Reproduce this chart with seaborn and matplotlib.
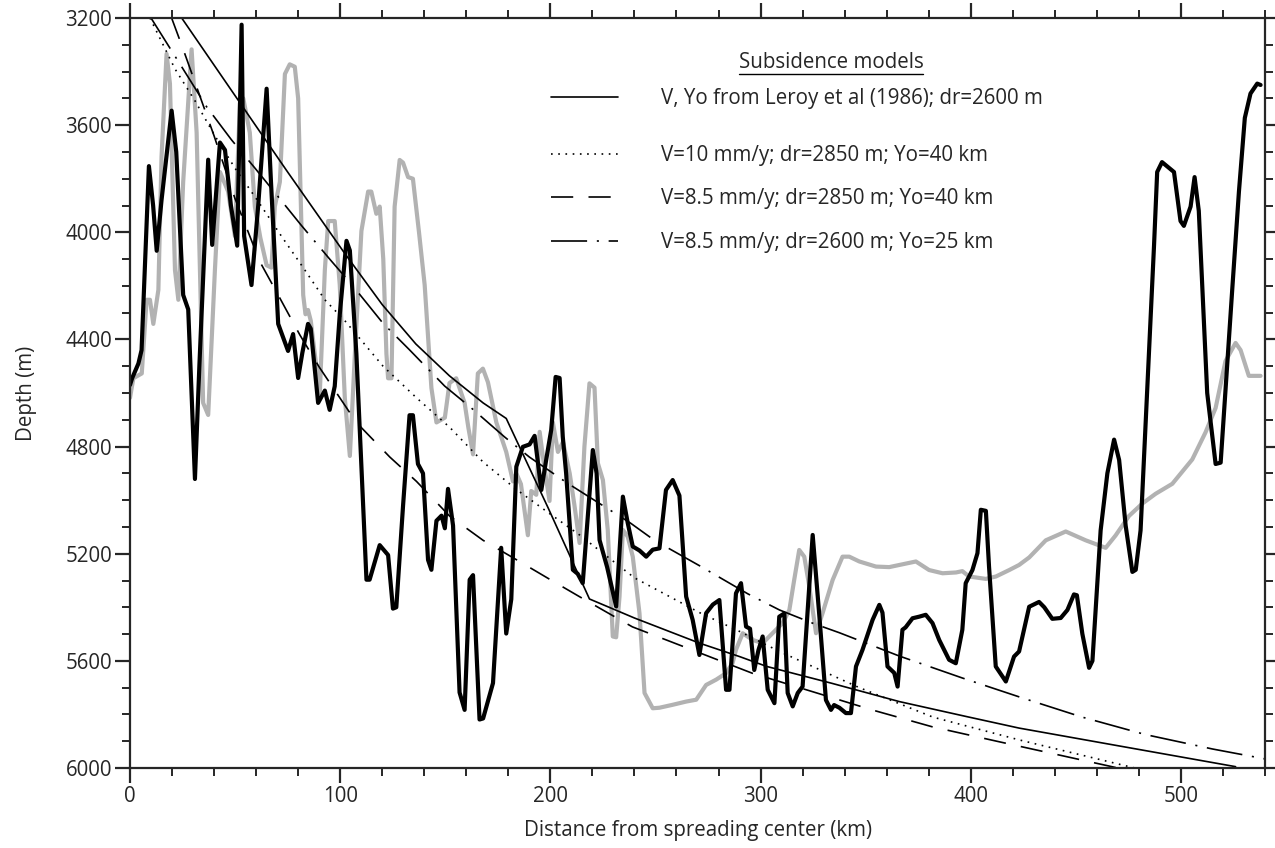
import matplotlib
matplotlib.use("Agg")
import matplotlib.pyplot as plt
import seaborn as sns
from matplotlib.ticker import MultipleLocator
from matplotlib.lines import Line2D

# ---------------- data ----------------
black_x = [0, 1, 4, 5.5, 9, 11, 12.7, 15, 19.8, 22, 25.3, 27.7, 30.9, 33, 37.2, 39.1, 42.8, 45.2,
           48, 51, 53.1, 54.3, 57.8, 61, 65, 67, 70.5, 75.2, 77.6, 80, 82, 84.7, 86, 89.5, 92.7,
           95, 97.4, 99.8, 103, 104.6, 107.7, 112.5, 114, 118.8, 122.8, 125.1, 126.7, 129.9, 133,
           134.6, 137, 139.4, 141.8, 143.4, 145.8, 148.2, 149.8, 151.3, 153.7, 156.8, 159.2, 161.6,
           163.2, 166.3, 168, 172.7, 176.6, 179, 181.4, 183.8, 186.9, 190.1, 192.5, 195.7, 198,
           200.4, 202.5, 204.4, 205.9, 207.5, 210.7, 213, 215.4, 220.2, 222, 223.4, 227, 231.3,
           234.5, 236.8, 239.2, 242.4, 245.6, 248.7, 251.9, 255, 258.2, 261.4, 264.6, 267.7, 270.9,
           274.1, 277.3, 280.4, 283.6, 285.2, 288.3, 290.7, 293.1, 295, 297, 299, 301, 303.4, 306.6,
           308.9, 311.3, 312.9, 315.3, 317.7, 320, 324.8, 328, 331.1, 333.5, 335, 337.5, 340.6, 343,
           345.4, 348.5, 353.3, 356.5, 358, 360.4, 363.6, 365.2, 367.5, 369, 372.3, 375.5, 378.6,
           381.8, 385, 389.7, 392.9, 396, 397.6, 400.8, 403.2, 404.8, 407.2, 408.7, 411.9, 416.7,
           420.6, 423, 427.8, 432.5, 435, 438.8, 442.8, 446, 449.1, 450.5, 453.1, 456.3, 457.9,
           461.8, 465, 468.2, 470.6, 473.7, 476.9, 478.5, 480.8, 484, 487.2, 488.7, 491, 496.7,
           499.8, 501.4, 504.6, 506.5, 508.5, 512.5, 516.5, 518.9, 524.4, 527.6, 530.4, 533.1,
           536.3, 537.9]
black_y = [4570, 4545, 4490, 4440, 3753, 3900, 4069, 3880, 3546, 3700, 4234, 4288, 4921, 4500, 3729,
           4047, 3665, 3693, 3900, 4050, 3225, 4014, 4197, 3900, 3464, 3800, 4342, 4443, 4380,
           4544, 4450, 4342, 4360, 4637, 4591, 4663, 4575, 4307, 4032, 4068, 4453, 5297, 5297,
           5168, 5205, 5405, 5400, 5022, 4683, 4683, 4865, 4900, 5223, 5260, 5077, 5058, 5105,
           4958, 5095, 5718, 5783, 5297, 5280, 5819, 5815, 5683, 5178, 5498, 5370, 4875, 4801,
           4792, 4760, 4962, 4850, 4738, 4540, 4544, 4763, 4900, 5260, 5275, 5310, 4813, 4900,
           5149, 5250, 5397, 4987, 5085, 5173, 5188, 5211, 5185, 5180, 4962, 4925, 4983, 5360,
           5447, 5578, 5422, 5390, 5373, 5708, 5708, 5348, 5310, 5472, 5480, 5634, 5560, 5509,
           5708, 5758, 5435, 5423, 5720, 5770, 5720, 5696, 5130, 5435, 5746, 5783, 5765, 5775,
           5795, 5795, 5621, 5559, 5447, 5391, 5420, 5621, 5645, 5696, 5484, 5475, 5441, 5435,
           5428, 5459, 5522, 5596, 5609, 5484, 5310, 5261, 5198, 5036, 5040, 5248, 5621, 5677,
           5584, 5565, 5398, 5380, 5400, 5443, 5440, 5410, 5352, 5355, 5499, 5626, 5600, 5113,
           4900, 4774, 4850, 5095, 5268, 5260, 5113, 4581, 4050, 3775, 3738, 3775, 3958, 3976,
           3904, 3794, 3920, 4600, 4865, 4860, 4215, 3848, 3573, 3482, 3445, 3450]

gray_x = [0, 1.6, 5.6, 7.9, 9.5, 11.1, 13.5, 15, 17.4, 19, 21.4, 23, 25.3, 29.3, 31.7, 34.8, 37.2,
          40.4, 42.8, 46.7, 49.9, 52.3, 53.9, 57, 59.4, 62, 65, 67.3, 68.9, 71.3, 73.7, 76, 78.4,
          80, 82.4, 83.5, 84.7, 86, 87.9, 90.3, 92.7, 94.3, 97.4, 99.8, 102.2, 104.6, 107, 110.1,
          113.3, 114.8, 117.2, 118.8, 120.5, 122, 122.8, 124.4, 125.9, 128.3, 129.9, 132.3, 134.6,
          137.5, 140.2, 143.4, 145.8, 149.8, 152, 155.2, 159.2, 161, 163.2, 165.5, 167.9, 170.3,
          174.3, 179, 182.2, 183.8, 186, 189.3, 190.9, 193.3, 194.9, 197, 199.6, 201.2, 203.6, 206,
          209.2, 211.5, 213.9, 216.2, 218.6, 221, 222.6, 225, 227.3, 229.7, 231.3, 232.9, 234.5,
          236.8, 239.2, 242.4, 244.8, 248.7, 251.9, 258.2, 264.6, 269.4, 274.1, 278.9, 283.6,
          286.7, 288.3, 291.5, 296.3, 301, 305.7, 310.5, 313.7, 316, 318.4, 320.8, 323.2, 326.4,
          329.5, 334.3, 339, 342.2, 347, 354.9, 361.2, 366, 373.9, 380.2, 386.6, 393, 396, 399.2,
          407.2, 412, 418.3, 423, 427.8, 435.7, 445.2, 454.7, 464.2, 468.9, 475.3, 481.6, 488,
          495.9, 505.4, 511.7, 516.5, 521.2, 526, 528.4, 532.3, 537.9]
gray_y = [4618, 4545, 4527, 4252, 4252, 4342, 4215, 3719, 3334, 3445, 4141, 4252, 3812, 3317, 3628,
          4637, 4682, 4141, 3775, 3848, 4014, 3518, 3500, 3628, 3904, 4020, 4123, 4132, 3904, 3812,
          3409, 3373, 3382, 3500, 4234, 4306, 4290, 4330, 4454, 4600, 4141, 3958, 3958, 4197, 4618,
          4835, 4454, 3995, 3848, 3848, 3931, 3904, 4100, 4454, 4545, 4545, 3904, 3730, 3740, 3794,
          3800, 4000, 4197, 4581, 4710, 4692, 4563, 4545, 4637, 4730, 4829, 4527, 4509, 4560, 4710,
          4820, 4930, 4900, 4940, 5131, 4966, 4980, 4745, 4870, 5003, 4710, 4820, 4783, 4900, 5022,
          5160, 4800, 4564, 4580, 4862, 4925, 5111, 5509, 5512, 5360, 5111, 5136, 5211, 5422, 5720,
          5777, 5775, 5764, 5752, 5745, 5690, 5670, 5646, 5608, 5559, 5497, 5522, 5534, 5497, 5459,
          5410, 5298, 5186, 5211, 5323, 5497, 5422, 5298, 5211, 5211, 5229, 5248, 5250, 5242, 5229,
          5261, 5273, 5270, 5265, 5285, 5294, 5285, 5261, 5242, 5214, 5150, 5117, 5150, 5178, 5132,
          5059, 5013, 4976, 4939, 4848, 4747, 4656, 4481, 4413, 4440, 4536, 4536]

# subsidence model curves
leroy_x = [24.6, 50, 75, 102, 120, 136, 152, 168, 179, 199, 218.6, 240, 271, 290, 303, 334, 366,
           398, 423, 468, 526]
leroy_y = [3200, 3490, 3775, 4077, 4270, 4417, 4536, 4637, 4695, 5030, 5369, 5440, 5534, 5584,
           5621, 5684, 5752, 5808, 5851, 5914, 5995]

v10_x = [9.5, 21.4, 30.9, 40.4, 49.9, 61, 72, 83.2, 92.7, 102.2, 120.4, 136.3, 152.1, 167.9,
         183.8, 199.6, 213.9, 240, 271, 290, 309, 347, 382, 423, 478]
v10_y = [3200, 3390, 3509, 3640, 3760, 3885, 4014, 4141, 4252, 4330, 4500, 4618, 4728, 4857,
         4960, 5050, 5130, 5290, 5420, 5490, 5565, 5700, 5810, 5895, 6000]

v85a_x = [19.8, 25, 30, 40, 49.9, 61.8, 70, 80.8, 90, 107.7, 123.6, 136.3, 152, 168, 184, 200,
          214, 239, 271, 296, 353, 381.6, 413.5, 470]
v85a_y = [3200, 3310, 3420, 3640, 3873, 4110, 4227, 4383, 4503, 4710, 4839, 4930, 5059, 5150,
          5223, 5297, 5361, 5473, 5570, 5646, 5783, 5846, 5902, 6000]

v85b_x = [10, 28.5, 36.4, 48.3, 59.4, 71.3, 81.6, 95, 106, 120.4, 133, 149.7, 162.4, 178.2, 190,
          208, 238, 249.5, 271, 294, 309, 325, 337.5, 366, 396, 424, 453, 483, 515, 540]
v85b_y = [3200, 3431, 3531, 3655, 3760, 3875, 3975, 4100, 4200, 4340, 4439, 4574, 4656, 4764,
          4839, 4936, 5085, 5150, 5245, 5350, 5410, 5460, 5495, 5582, 5664, 5737, 5810, 5875,
          5929, 5966]

model_labels = ["V, Yo from Leroy et al (1986); dr=2600 m",
                "V=10 mm/y; dr=2850 m; Yo=40 km",
                "V=8.5 mm/y; dr=2850 m; Yo=40 km",
                "V=8.5 mm/y; dr=2600 m; Yo=25 km"]
legend_title = "Subsidence models"
x_ticks = [0, 100, 200, 300, 400, 500]
y_ticks = [3200, 3600, 4000, 4400, 4800, 5200, 5600, 6000]

# ---------------- style ----------------
FS = 14.8
sns.set_style("ticks")
plt.rcParams['font.family'] = ['Open Sans', 'DejaVu Sans']
plt.rcParams['lines.scale_dashes'] = False
plt.rcParams['axes.linewidth'] = 1.6

fig = plt.figure(figsize=(12.75, 8.48), dpi=100)
ax = fig.add_axes([130 / 1275, 1 - 768 / 848, 1135 / 1275, 750 / 848])

sns.lineplot(x=gray_x, y=gray_y, sort=False, estimator=None, errorbar=None,
             color='#b2b2b2', linewidth=3.0, ax=ax)
sns.lineplot(x=black_x, y=black_y, sort=False, estimator=None, errorbar=None,
             color='black', linewidth=3.0, ax=ax)

styles = ['-', (0, (1.2, 4.0)), (0, (16, 11)), (0, (26, 7, 1.5, 7))]
model_x = [leroy_x, v10_x, v85a_x, v85b_x]
model_y = [leroy_y, v10_y, v85a_y, v85b_y]
handles = []
for mx, my, ls, lab in zip(model_x, model_y, styles, model_labels):
    sns.lineplot(x=mx, y=my, sort=False, estimator=None, errorbar=None,
                 color='black', linewidth=1.2, linestyle=ls, ax=ax)
    handles.append(Line2D([], [], color='black', linewidth=1.2, linestyle=ls, label=lab))

ax.set_xlim(0, 540)
ax.set_ylim(6000, 3200)
ax.set_xticks(x_ticks)
ax.set_yticks(y_ticks)
ax.xaxis.set_minor_locator(MultipleLocator(20))
ax.yaxis.set_minor_locator(MultipleLocator(100))
ax.tick_params(which='major', direction='out', length=11, width=1.6, top=True, right=True,
               labelsize=FS, pad=2)
ax.tick_params(which='minor', direction='out', length=6, width=1.4, top=True, right=True)
for s in ax.spines.values():
    s.set_linewidth(1.6)

ax.set_xlabel("Distance from spreading center (km)", fontsize=FS, labelpad=9)
ax.set_ylabel("Depth (m)", fontsize=FS, labelpad=20)

leg_kw = dict(loc='upper left', frameon=False, fontsize=FS, handlelength=3.25,
              handletextpad=2.1, labelspacing=1.09, borderpad=0, borderaxespad=0)
leg1 = ax.legend(handles=handles[:1], bbox_to_anchor=(0.371, 0.9067), **leg_kw)
ax.add_artist(leg1)
leg2 = ax.legend(handles=handles[1:], bbox_to_anchor=(0.371, 0.8307), **leg_kw)

title = ax.text(0.6176, 0.9413, legend_title, transform=ax.transAxes, ha='center', va='center',
                fontsize=FS)
fig.canvas.draw()
bb = title.get_window_extent(renderer=fig.canvas.get_renderer())
inv = fig.transFigure.inverted()
(x0, y0), (x1, _) = inv.transform([(bb.x0, bb.y0 - 1), (bb.x1, bb.y0)])
fig.add_artist(Line2D([x0, x1], [y0, y0], transform=fig.transFigure, color='black', linewidth=1.0))

fig.savefig("out.png", dpi=100)
